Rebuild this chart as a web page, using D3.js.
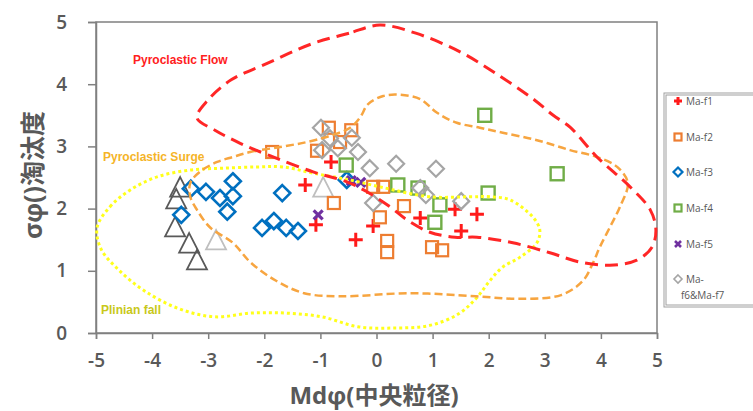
<!DOCTYPE html>
<html>
<head>
<meta charset="utf-8">
<script src="https://cdn.jsdelivr.net/npm/d3@7"></script>
<style>
  html, body { margin: 0; padding: 0; background: #fff; }
  svg { display: block; }
</style>
</head>
<body>
<svg id="chart" width="753" height="411"></svg>
<script>
// Axis ticks
const xTicks = [-5, -4, -3, -2, -1, 0, 1, 2, 3, 4, 5];
const yTicks = [0, 1, 2, 3, 4, 5];

// Sample groups: [Mdφ, σφ]
const maF1 = [[-1.27, 2.38], [-1.08, 1.74], [-0.81, 2.75], [-0.37, 1.50], [-0.06, 1.72],
              [0.78, 1.85], [1.40, 1.99], [1.79, 1.91], [1.51, 1.64]];
const maF2 = [[-1.86, 2.91], [-1.06, 2.93], [-0.85, 3.30], [-0.45, 3.26], [-0.65, 3.07],
              [-0.76, 2.09], [-0.06, 2.35], [0.12, 2.35], [0.06, 1.86], [0.49, 2.04],
              [0.19, 1.48], [0.19, 1.30], [0.99, 1.38], [1.17, 1.33]];
const maF3 = [[-3.48, 1.90], [-3.31, 2.32], [-3.04, 2.27], [-2.79, 2.17], [-2.56, 2.44],
              [-2.56, 2.20], [-2.66, 1.95], [-1.68, 2.25], [-2.04, 1.69], [-1.83, 1.80],
              [-1.61, 1.69], [-1.40, 1.64], [-0.53, 2.46]];
const maF4 = [[1.93, 3.50], [3.22, 2.56], [1.99, 2.25], [0.38, 2.38], [0.74, 2.33],
              [1.04, 1.78], [-0.54, 2.70], [1.13, 2.06]];
const maF5 = [[-1.04, 1.90], [-0.45, 2.45], [-0.28, 2.42]];
const maF67 = [[-0.99, 3.30], [-0.97, 2.94], [-0.69, 2.97], [-0.44, 3.14], [-0.33, 2.91],
               [-0.12, 2.65], [0.35, 2.72], [1.06, 2.64], [-0.06, 2.09], [0.78, 2.33],
               [0.88, 2.22], [1.51, 2.12], [-0.83, 3.13]];
const darkTriangles = [[-3.50, 2.33], [-3.57, 2.14], [-3.59, 1.69], [-3.34, 1.43], [-3.20, 1.16]];
const lightTriangles = [[-2.86, 1.48], [-0.95, 2.33]];

// Field boundaries
const flowBoundary = [[0.06, 4.95], [-0.49, 4.82], [-1.15, 4.65], [-2.01, 4.31], [-2.59, 4.07],
  [-3.0, 3.75], [-3.2, 3.46], [-2.88, 3.26], [-2.43, 3.05], [-1.9, 2.85], [-1.13, 2.59],
  [-0.53, 2.43], [-0.17, 2.27], [0.24, 2.03], [0.54, 1.82], [0.95, 1.62], [1.40, 1.54],
  [1.79, 1.54], [2.43, 1.45], [3.09, 1.29], [3.63, 1.14], [4.16, 1.09], [4.64, 1.17],
  [4.91, 1.38], [4.98, 1.66], [4.88, 1.98], [4.52, 2.35], [3.93, 2.83], [3.45, 3.31],
  [3.15, 3.50], [2.81, 3.75], [2.15, 4.16], [1.49, 4.52], [0.70, 4.82]];
const surgeBoundary = [[-2.56, 2.83], [-2.25, 2.91], [-1.72, 2.99], [-1.24, 3.07], [-0.83, 3.17],
  [-0.47, 3.30], [-0.29, 3.47], [-0.15, 3.68], [0.12, 3.81], [0.42, 3.83], [0.78, 3.76],
  [1.08, 3.54], [1.43, 3.38], [1.84, 3.30], [2.25, 3.22], [2.86, 3.10], [3.45, 2.94],
  [3.93, 2.83], [4.29, 2.67], [4.48, 2.41], [4.34, 2.03], [4.16, 1.70], [3.98, 1.38],
  [3.86, 1.13], [3.68, 0.84], [3.29, 0.61], [2.54, 0.55], [1.77, 0.59], [0.61, 0.64],
  [-0.65, 0.59], [-1.29, 0.64], [-1.79, 0.84], [-2.24, 1.13], [-2.56, 1.45], [-2.97, 1.70],
  [-3.20, 1.98], [-3.32, 2.19], [-3.32, 2.41], [-3.15, 2.59], [-2.84, 2.75]];
const plinianBoundary = [[-4.98, 1.70], [-4.75, 2.03], [-4.39, 2.30], [-3.91, 2.51], [-3.32, 2.62],
  [-2.74, 2.65], [-2.13, 2.67], [-1.67, 2.67], [-1.13, 2.57], [-0.47, 2.46], [0.06, 2.35],
  [0.95, 2.19], [1.67, 2.19], [2.02, 2.19], [2.38, 2.14], [2.79, 1.86], [2.91, 1.66],
  [2.86, 1.45], [2.56, 1.22], [2.25, 1.06], [2.02, 0.84], [1.77, 0.55], [1.45, 0.30],
  [0.94, 0.12], [0.31, 0.08], [-0.33, 0.10], [-0.97, 0.26], [-1.61, 0.32], [-2.24, 0.32],
  [-2.88, 0.26], [-3.52, 0.39], [-4.14, 0.68], [-4.59, 1.01], [-4.91, 1.35]];

const legendLabels = ["Ma-f1", "Ma-f2", "Ma-f3", "Ma-f4", "Ma-f5", ["Ma-", "f6&Ma-f7"]];

const svg = d3.select("#chart");
const x = d3.scaleLinear().domain([-5, 5]).range([96, 657]);
const y = d3.scaleLinear().domain([0, 5]).range([333, 22]);

const axisColor = "#808080";
const textColor = "#595959";
const tickFont = "'Open Sans', 'Liberation Sans', Arial, sans-serif";
const plain = d => String(d);

// Plot frame
svg.append("rect")
  .attr("x", x(-5)).attr("y", y(5))
  .attr("width", x(5) - x(-5)).attr("height", y(0) - y(5))
  .attr("fill", "none").attr("stroke", axisColor).attr("stroke-width", 1.5);

const xAxis = svg.append("g")
  .attr("transform", `translate(0,${y(0)})`)
  .call(d3.axisBottom(x).tickValues(xTicks).tickFormat(plain)
    .tickSize(6).tickPadding(15).tickSizeOuter(6));
const yAxis = svg.append("g")
  .attr("transform", `translate(${x(-5)},0)`)
  .call(d3.axisLeft(y).tickValues(yTicks).tickFormat(plain)
    .tickSize(8).tickPadding(21).tickSizeOuter(8));
[xAxis, yAxis].forEach(g => {
  g.selectAll("path, line").attr("stroke", axisColor).attr("stroke-width", 1.5);
  g.selectAll("text").attr("fill", textColor).attr("font-family", tickFont)
    .attr("font-weight", 600).attr("font-size", 19);
});

// Axis titles
svg.append("text")
  .attr("x", 374).attr("y", 404)
  .attr("text-anchor", "middle")
  .attr("font-family", "'Open Sans', 'Noto Sans CJK JP', sans-serif")
  .attr("font-weight", "bold").attr("font-size", 24).attr("fill", textColor)
  .text("Mdφ(中央粒径)");
svg.append("text")
  .attr("transform", "translate(42,175) rotate(-90)")
  .attr("text-anchor", "middle")
  .attr("font-family", "'Open Sans', 'Noto Sans CJK JP', sans-serif")
  .attr("font-weight", "bold").attr("font-size", 25).attr("fill", textColor)
  .text("σφ()淘汰度");

// Marker shapes
function square(g, s) {
  g.append("rect").attr("x", -s / 2).attr("y", -s / 2).attr("width", s).attr("height", s);
}
function diamond(g, s) {
  const h = s / 2;
  g.append("path").attr("d", `M0,${-h}L${h},0L0,${h}L${-h},0Z`);
}
function plus(g, s) {
  const h = s / 2;
  g.append("path").attr("d", `M${-h},0H${h}M0,${-h}V${h}`);
}
function cross(g, s) {
  const h = s / 2;
  g.append("path").attr("d", `M${-h},${-h}L${h},${h}M${h},${-h}L${-h},${h}`);
}
function triangle(g, s) {
  const h = s * 0.5;
  g.append("path").attr("d", `M0,${-h * 1.1}L${h},${h * 0.85}L${-h},${h * 0.85}Z`);
}

function drawSeries(data, shape, size, color, width) {
  const grp = svg.append("g")
    .attr("fill", "none").attr("stroke", color).attr("stroke-width", width);
  data.forEach(d => {
    const g = grp.append("g").attr("transform", `translate(${x(d[0])},${y(d[1])})`);
    shape(g, size);
  });
}

drawSeries(darkTriangles, triangle, 20, "#595959", 1.8);
drawSeries(lightTriangles, triangle, 20, "#bfbfbf", 1.8);
drawSeries(maF1, plus, 14, "#ff1a1a", 3);
drawSeries(maF2, square, 12, "#ed7d31", 2.2);
drawSeries(maF3, diamond, 16, "#0070c0", 2.6);
drawSeries(maF4, square, 13, "#70ad47", 2.4);
drawSeries(maF5, cross, 9, "#7030a0", 3.2);
drawSeries(maF67, diamond, 16, "#a5a5a5", 2.2);

// Field boundaries
const boundary = d3.line().x(d => x(d[0])).y(d => y(d[1])).curve(d3.curveCatmullRomClosed.alpha(0.5));
svg.append("path").datum(plinianBoundary).attr("d", boundary)
  .attr("fill", "none").attr("stroke", "#ffff1a").attr("stroke-width", 3)
  .attr("stroke-dasharray", "3,3");
svg.append("path").datum(surgeBoundary).attr("d", boundary)
  .attr("fill", "none").attr("stroke", "#f7a540").attr("stroke-width", 2.5)
  .attr("stroke-dasharray", "8,4");
svg.append("path").datum(flowBoundary).attr("d", boundary)
  .attr("fill", "none").attr("stroke", "#ff2626").attr("stroke-width", 3)
  .attr("stroke-dasharray", "13,7");

// Field names
const labelFont = "'Liberation Sans', Arial, sans-serif";
[["Pyroclastic Flow", 133, 64, "#ff2020"],
 ["Pyroclastic Surge", 103, 161, "#f5b428"],
 ["Plinian fall", 101, 314, "#c8c81a"]].forEach(([t, lx, ly, c]) => {
  svg.append("text").attr("x", lx).attr("y", ly)
    .attr("font-family", labelFont).attr("font-weight", "bold").attr("font-size", 12)
    .attr("fill", c).text(t);
});

// Legend
svg.append("rect").attr("x", 664).attr("y", 93).attr("width", 100).attr("height", 214)
  .attr("fill", "#fff").attr("stroke", "#a0a0a0").attr("stroke-width", 1);
svg.append("rect").attr("x", 666).attr("y", 95).attr("width", 100).attr("height", 210)
  .attr("fill", "none").attr("stroke", "#a0a0a0").attr("stroke-width", 1);

const legendSpec = [
  [plus, 8, "#ff1a1a", 3],
  [square, 7, "#ed7d31", 2.2],
  [diamond, 9, "#0070c0", 2.2],
  [square, 7, "#70ad47", 2.2],
  [cross, 6, "#7030a0", 2.6],
  [diamond, 8, "#a5a5a5", 1.6]
];
const legendY = [101, 137, 172, 208, 244, 279];
legendSpec.forEach(([shape, s, c, w], i) => {
  const g = svg.append("g").attr("transform", `translate(678,${legendY[i]})`)
    .attr("fill", "none").attr("stroke", c).attr("stroke-width", w);
  shape(g, s);
  const lab = legendLabels[i];
  const lines = Array.isArray(lab) ? lab : [lab];
  lines.forEach((ln, j) => {
    svg.append("text")
      .attr("x", j === 0 ? 686 : 681).attr("y", legendY[i] + 4 + j * 16)
      .attr("font-family", "'Open Sans', Arial, sans-serif").attr("font-size", 10)
      .attr("fill", textColor).text(ln);
  });
});
</script>
</body>
</html>
